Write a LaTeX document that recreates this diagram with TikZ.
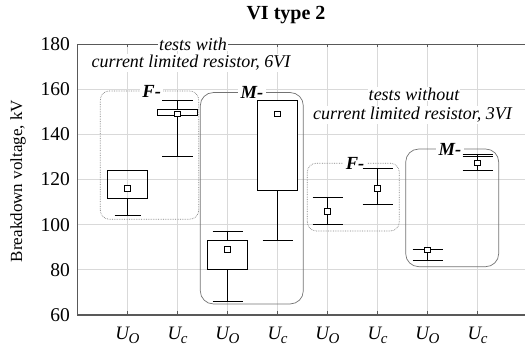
\documentclass[tikz,border=0pt]{standalone}
\usepackage{fontspec}
\setmainfont{Liberation Serif}
\begin{document}
\begin{tikzpicture}[x=1pt,y=1pt,
  grid/.style={draw=black!15,line width=0.8pt},
  axisline/.style={draw=black!65,line width=1.4pt},
  whisk/.style={draw=black,line width=0.9pt},
  medmark/.style={draw=black,fill=white,line width=0.7pt,minimum size=5.5pt,inner sep=0pt,rectangle},
  frameF/.style={draw=black!50,densely dotted,line width=0.7pt,rounded corners=9pt},
  frameM/.style={draw=black!55,line width=0.7pt,rounded corners=13pt},
  grplabel/.style={fill=white,inner sep=2.5pt,font=\fontsize{18.5}{18.5}\selectfont\bfseries\itshape},
  note/.style={fill=white,inner sep=1pt,font=\fontsize{18}{20}\selectfont\itshape},
  ticklab/.style={anchor=east,font=\fontsize{19.5}{19.5}\selectfont},
  xlab/.style={font=\fontsize{19}{19}\selectfont\itshape}]
\useasboundingbox (0,0) rectangle (525,349);
\begin{scope}[shift={(77.5pt,-101.5pt)},x=50pt,y=2.2583pt]
  % grid
  \foreach \k in {1,...,8} \draw[grid] (\k,60) -- (\k,180);
  \foreach \v in {80,100,...,160} \draw[grid] (0,\v) -- (9,\v);
  % axes
  \draw[draw=black!65,line width=1pt] (0,180) -- (9,180);
  \draw[axisline] (0,180) -- (0,60) -- (9,60);
  \foreach \k in {1,...,8} {
    \draw[draw=black!65,line width=0.8pt] (\k,60) -- (\k,61.8);
    \draw[draw=black!65,line width=0.8pt] (\k,180) -- (\k,178.6);
  }
  \foreach \v in {60,80,...,180} \node[ticklab] (yl\v) at (-0.08,\v) {\v};
  \node[rotate=90,font=\fontsize{17}{17}\selectfont] (ytitle) at (-1.19,119.3) {Breakdown voltage, kV};
  \node[font=\fontsize{20}{20}\selectfont\bfseries] (title) at (4.17,192.9) {VI type 2};
  % x labels
  \foreach \k/\s in {1/O,2/c,3/O,4/c,5/O,6/c,7/O,8/c}
    \node[xlab] (xl\k) at (\k,51.1) {U\kern-0.5pt\raisebox{-4.5pt}{\fontsize{15}{15}\selectfont\s}};
  % frames
  \draw[frameF] (0.456,102.4) rectangle (2.424,159.2);
  \draw[frameM] (2.456,64.9) rectangle (4.516,158.5);
  \draw[frameF] (4.596,97.2) rectangle (6.436,127.2);
  \draw[frameM] (6.564,81.4) rectangle (8.424,133.5);
  \node[grplabel] (g1) at (1.484,159.2) {F-};
  \node[grplabel] (g2) at (3.49,158.5) {M-};
  \node[grplabel] (g3) at (5.55,127.2) {F-};
  \node[grplabel] (g4) at (7.45,133.5) {M-};
  % notes
  \node[note] (n1a) at (2.31,180) {tests with};
  \node[note] (n1b) at (2.27,171.6) {current limited resistor, 6VI};
  \node[note] (n2a) at (6.73,157.9) {tests without};
  \node[note] (n2b) at (6.70,148.6) {current limited resistor, 3VI};
  % group 1
  \draw[whisk] (1,111.4) -- (1,104) (0.74,104) -- (1.26,104);
  \draw[whisk] (0.6,111.4) rectangle (1.4,124);
  \node[medmark] (m1) at (1,116) {};
  \draw[whisk] (2,130) -- (2,155) (1.69,130) -- (2.31,130) (1.69,155) -- (2.31,155);
  \draw[whisk,fill=white] (1.6,148.3) rectangle (2.4,151.1);
  \node[medmark] (m2) at (2,149) {};
  % group 2
  \draw[whisk] (3,66) -- (3,97) (2.7,66) -- (3.3,66) (2.7,97) -- (3.3,97);
  \draw[whisk,fill=white] (2.6,80) rectangle (3.4,93);
  \node[medmark] (m3) at (3,89) {};
  \draw[whisk] (4,93) -- (4,115) (3.7,93) -- (4.3,93);
  \draw[whisk,fill=white] (3.6,115) rectangle (4.4,155);
  \node[medmark] (m4) at (4,149) {};
  % group 3
  \draw[whisk] (5,100) -- (5,112) (4.7,100) -- (5.3,100) (4.7,112) -- (5.3,112);
  \node[medmark] (m5) at (5,106) {};
  \draw[whisk] (6,109) -- (6,125) (5.7,109) -- (6.3,109) (5.7,125) -- (6.3,125);
  \node[medmark] (m6) at (6,116) {};
  % group 4
  \draw[whisk] (7,84) -- (7,89) (6.7,84) -- (7.3,84) (6.7,89) -- (7.3,89);
  \node[medmark] (m7) at (7,88.8) {};
  \draw[whisk] (8,124) -- (8,131) (7.7,124) -- (8.3,124) (7.7,131) -- (8.3,131) (7.7,130) -- (8.3,130);
  \node[medmark] (m8) at (8,127.3) {};
\end{scope}
\end{tikzpicture}
\end{document}
